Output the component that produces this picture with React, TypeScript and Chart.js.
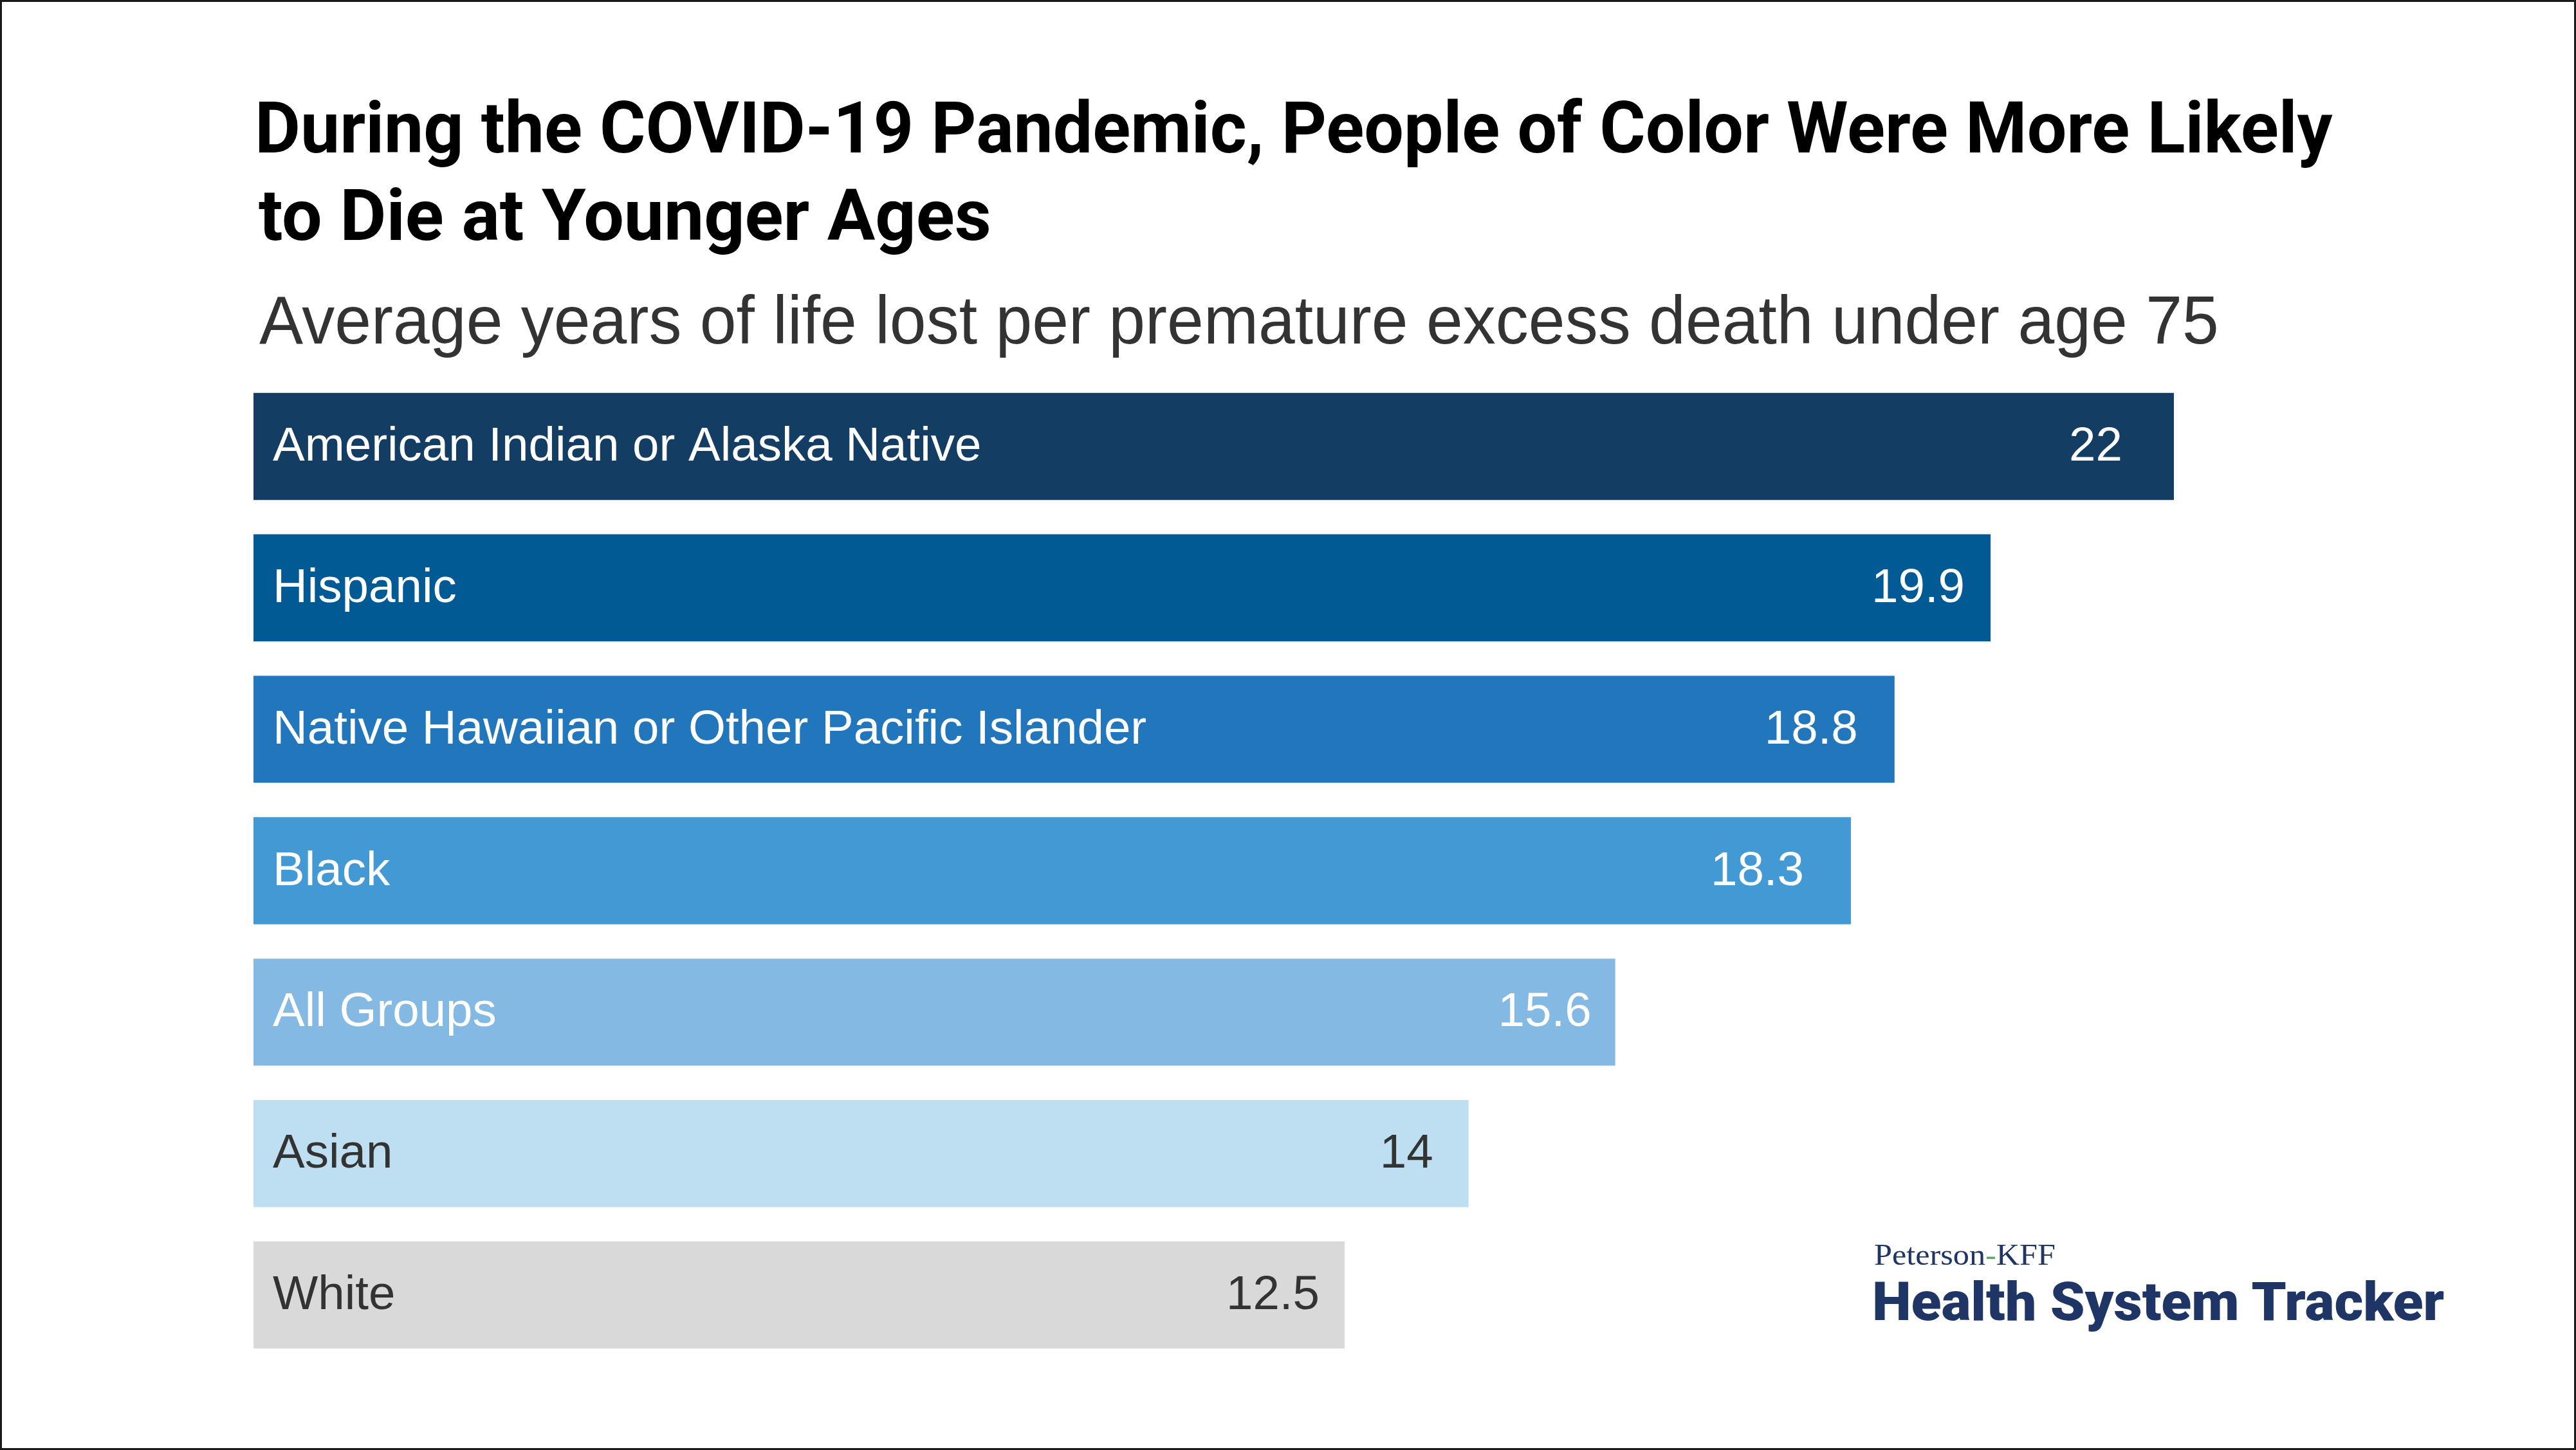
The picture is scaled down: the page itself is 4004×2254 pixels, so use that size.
import React, { useEffect, useRef } from "react";
import { Chart, registerables } from "chart.js";

Chart.register(...registerables);

// ---------- data ----------
const categories = [
  "American Indian or Alaska Native",
  "Hispanic",
  "Native Hawaiian or Other Pacific Islander",
  "Black",
  "All Groups",
  "Asian",
  "White",
];
const values = [22, 19.9, 18.8, 18.3, 15.6, 13.92, 12.5];
const valueLabels = ["22", "19.9", "18.8", "18.3", "15.6", "14", "12.5"];

// ---------- styles ----------
const barColors = ["#133d63", "#025a94", "#2176bc", "#4399d3", "#83b9e2", "#bedef1", "#d9d9d9"];
const labelColors = ["#ffffff", "#ffffff", "#ffffff", "#ffffff", "#ffffff", "#333333", "#333333"];
const valueInsets = [80, 40, 57, 73, 37, 55, 39];

const TITLE_LINES = [
  "During the COVID-19 Pandemic, People of Color Were More Likely",
  "to Die at Younger Ages",
];
const SUBTITLE = "Average years of life lost per premature excess death under age 75";

const AXIS_MAX = 25;
const PX_PER_UNIT = 135.7;
const CHART_LEFT = 394;
const CHART_TOP = 584;
const CHART_HEIGHT = 1539;
const LABEL_FONT = "74.5px 'Liberation Sans', Arial, sans-serif";

// ---------- text measuring ----------
let measureCtx: CanvasRenderingContext2D | null = null;
function getCtx() {
  if (!measureCtx) {
    const c = document.createElement("canvas");
    measureCtx = c.getContext("2d");
  }
  return measureCtx!;
}

type FitProps = {
  text: React.ReactNode;
  plain: string;
  family: string;
  weight: number;
  inkLeft: number;
  baseline: number;
  capHeight: number;
  inkWidth: number;
  color: string;
};

function FitText(p: FitProps) {
  const ctx = getCtx();
  ctx.font = `${p.weight} 100px ${p.family}`;
  const cap100 = ctx.measureText("H").actualBoundingBoxAscent || 71.6;
  const fs = (100 * p.capHeight) / cap100;
  ctx.font = `${p.weight} ${fs}px ${p.family}`;
  const m = ctx.measureText(p.plain);
  const abl = m.actualBoundingBoxLeft;
  const abr = m.actualBoundingBoxRight;
  const w = abl + abr;
  const sx = w > 0 ? p.inkWidth / w : 1;
  const asc = (m as any).fontBoundingBoxAscent ?? fs * 0.93;
  const desc = (m as any).fontBoundingBoxDescent ?? fs * 0.25;
  const x0 = p.inkLeft + abl * sx;
  return (
    <div
      style={{
        position: "absolute",
        left: x0,
        top: p.baseline - asc,
        fontFamily: p.family,
        fontWeight: p.weight,
        fontSize: fs,
        lineHeight: `${asc + desc}px`,
        whiteSpace: "nowrap",
        color: p.color,
        transform: `scaleX(${sx})`,
        transformOrigin: "0 0",
      }}
    >
      {p.text}
    </div>
  );
}

// ---------- chart ----------
const labelPlugin = {
  id: "barLabels",
  afterDatasetsDraw(chart: any) {
    const ctx = chart.ctx as CanvasRenderingContext2D;
    const meta = chart.getDatasetMeta(0);
    ctx.save();
    ctx.font = LABEL_FONT;
    ctx.textBaseline = "alphabetic";
    meta.data.forEach((bar: any, i: number) => {
      const { x, y, base } = bar.getProps(["x", "y", "base"], true);
      ctx.fillStyle = labelColors[i];
      ctx.textAlign = "left";
      ctx.fillText(categories[i], base + 30, y + 22);
      ctx.textAlign = "right";
      ctx.fillText(valueLabels[i], x - valueInsets[i], y + 22);
    });
    ctx.restore();
  },
};

function BarChart() {
  const ref = useRef<HTMLCanvasElement | null>(null);
  useEffect(() => {
    if (!ref.current) return;
    const chart = new Chart(ref.current, {
      type: "bar",
      data: {
        labels: categories,
        datasets: [
          {
            data: values,
            backgroundColor: barColors,
            borderWidth: 0,
            barPercentage: 0.757,
            categoryPercentage: 1,
          },
        ],
      },
      options: {
        indexAxis: "y",
        responsive: false,
        animation: false,
        devicePixelRatio: 1,
        layout: { padding: 0 },
        plugins: {
          legend: { display: false },
          tooltip: { enabled: false },
          title: { display: false },
        },
        scales: {
          x: { display: false, min: 0, max: AXIS_MAX },
          y: { display: false },
        },
      },
      plugins: [labelPlugin],
    } as any);
    return () => chart.destroy();
  }, []);
  const w = Math.round(AXIS_MAX * PX_PER_UNIT);
  return (
    <canvas
      ref={ref}
      width={w}
      height={CHART_HEIGHT}
      style={{ position: "absolute", left: CHART_LEFT, top: CHART_TOP, width: w, height: CHART_HEIGHT }}
    />
  );
}

export default function App() {
  return (
    <div
      style={{
        position: "absolute",
        left: 0,
        top: 0,
        width: 4004,
        height: 2254,
        background: "#ffffff",
        overflow: "hidden",
      }}
    >
      <FitText
        text={TITLE_LINES[0]}
        plain={TITLE_LINES[0]}
        family="Roboto, 'Noto Sans', sans-serif"
        weight={700}
        inkLeft={403}
        baseline={236.5}
        capHeight={79.5}
        inkWidth={3223}
        color="#000000"
      />
      <FitText
        text={TITLE_LINES[1]}
        plain={TITLE_LINES[1]}
        family="Roboto, 'Noto Sans', sans-serif"
        weight={700}
        inkLeft={402}
        baseline={373}
        capHeight={79.5}
        inkWidth={1135}
        color="#000000"
      />
      <FitText
        text={SUBTITLE}
        plain={SUBTITLE}
        family="'Liberation Sans', Arial, sans-serif"
        weight={400}
        inkLeft={403}
        baseline={534}
        capHeight={73}
        inkWidth={3042}
        color="#333333"
      />
      <BarChart />
      <FitText
        text={
          <>
            Peterson<span style={{ color: "#5aaa6a" }}>-</span>KFF
          </>
        }
        plain="Peterson-KFF"
        family="'Liberation Serif', 'DejaVu Serif', serif"
        weight={400}
        inkLeft={2914}
        baseline={1966}
        capHeight={30}
        inkWidth={279}
        color="#1e3565"
      />
      <FitText
        text="Health System Tracker"
        plain="Health System Tracker"
        family="Roboto, Lato, sans-serif"
        weight={900}
        inkLeft={2914}
        baseline={2052}
        capHeight={60}
        inkWidth={887}
        color="#1e3565"
      />
      <div
        style={{
          position: "absolute",
          left: 0,
          top: 0,
          width: 4004,
          height: 2254,
          boxSizing: "border-box",
          border: "3px solid #1a1a1a",
          pointerEvents: "none",
        }}
      />
    </div>
  );
}
